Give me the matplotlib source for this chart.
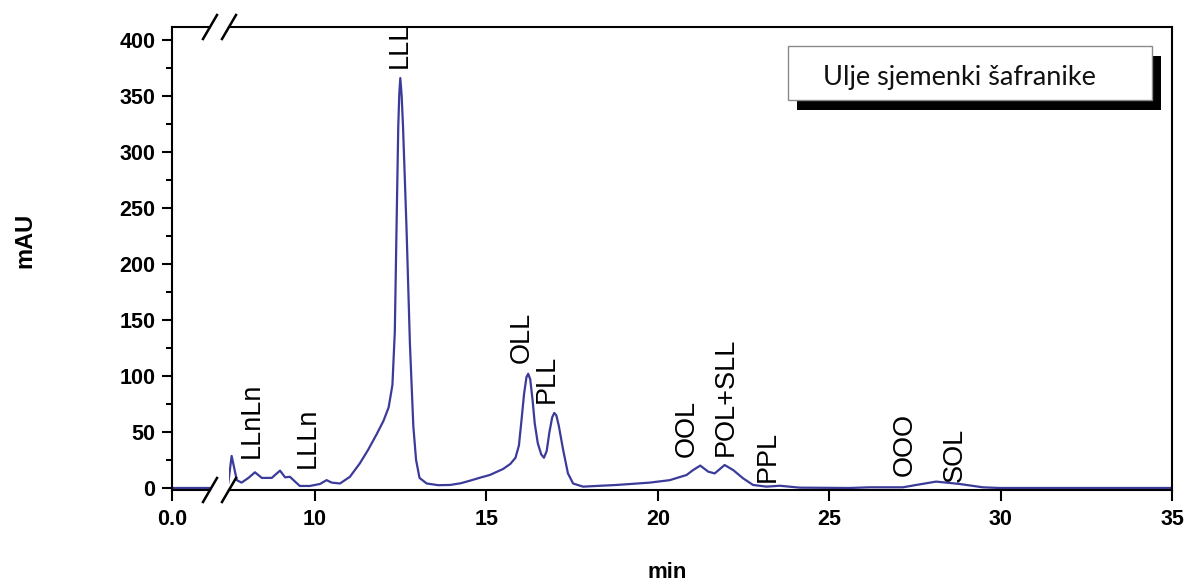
import numpy as np
import matplotlib.pyplot as plt
from matplotlib.lines import Line2D
from matplotlib.patches import Rectangle

# chromatogram (min, mAU)
time = [0.0, 1.2, 7.47, 7.57, 7.72, 7.86, 8.06, 8.25, 8.45, 8.74, 8.98, 9.13,
        9.27, 9.42, 9.56, 9.85, 10.15, 10.34, 10.49, 10.73, 11.02, 11.31, 11.55,
        11.80, 12.00, 12.15, 12.26, 12.33, 12.38, 12.43, 12.46, 12.49, 12.53,
        12.57, 12.67, 12.77, 12.87, 12.95, 13.05, 13.26, 13.60, 13.94, 14.25,
        14.52, 14.85, 15.10, 15.49, 15.70, 15.85, 15.95, 16.03, 16.10, 16.17,
        16.22, 16.28, 16.35, 16.41, 16.50, 16.60, 16.68, 16.76, 16.84, 16.92,
        16.98, 17.04, 17.11, 17.24, 17.38, 17.53, 17.82, 18.80, 19.77, 20.35,
        20.84, 21.03, 21.24, 21.47, 21.66, 21.95, 22.20, 22.49, 22.78, 23.17,
        23.56, 24.14, 25.60, 26.18, 27.15, 27.54, 28.12, 28.80, 29.48, 29.97,
        35.0]
signal = [0.0, 0.0, 4.0, 28.6, 7.0, 4.8, 9.0, 14.0, 9.0, 9.0, 15.5, 9.5,
          10.0, 5.7, 1.8, 1.8, 3.6, 7.0, 4.8, 4.0, 10.0, 22.0, 34.0,
          48.0, 60.0, 72.0, 92.0, 140.0, 233.0, 322.0, 352.0, 366.0, 350.0,
          322.0, 233.0, 129.0, 55.0, 25.0, 9.0, 4.0, 2.5, 2.7, 4.2,
          6.5, 9.5, 11.6, 17.0, 21.5, 27.0, 38.0, 62.0, 84.0, 99.0,
          102.0, 97.0, 78.0, 58.0, 40.0, 30.0, 27.0, 33.0, 50.0, 63.0,
          67.0, 65.0, 56.0, 34.0, 13.0, 4.0, 1.2, 2.7, 4.8, 7.0,
          11.6, 16.0, 20.0, 14.6, 13.0, 20.5, 16.0, 8.6, 2.7, 1.2,
          2.0, 0.3, 0.0, 0.6, 0.6, 2.7, 5.7, 3.6, 0.6, 0.0,
          0.0]

peak_names = ["LLnLn", "LLLn", "LLL", "OLL", "PLL", "OOL", "POL+SLL", "PPL", "OOO", "SOL"]
peak_x = [8.16, 9.80, 12.48, 16.03, 16.76, 20.85, 21.98, 23.21, 27.20, 28.66]
peak_y = [27, 18, 375, 112, 76, 28, 29, 5, 11, 5]

yticks = list(range(0, 401, 50))
xticks = [10, 15, 20, 25, 30, 35]

W, H = 1187, 583
fig = plt.figure(figsize=(W / 100, H / 100), dpi=100)


def fx(px):
    return px / W


def fy(py):
    return 1 - py / H


bottom, top = fy(490), fy(27)
ax_l = fig.add_axes([fx(172), bottom, fx(210) - fx(172), top - bottom])
ax_r = fig.add_axes([fx(229), bottom, fx(1172) - fx(229), top - bottom])

color = "#3b3b9a"
tick_font = dict(family="Liberation Sans", weight="bold", size=15.5)

for ax in (ax_l, ax_r):
    ax.plot(time, signal, color=color, lw=1.6, solid_joinstyle="round")
    ax.set_ylim(-1.8, 411.6)
    for s in ax.spines.values():
        s.set_linewidth(1.5)
    ax.tick_params(axis="x", direction="out", length=8, width=1.5, pad=6, top=False)

ax_l.set_xlim(0, 1.108)
ax_r.set_xlim(7.493, 35)
ax_l.spines["right"].set_visible(False)
ax_r.spines["left"].set_visible(False)

ax_l.set_xticks([0])
ax_l.set_xticklabels(["0.0"], fontdict=tick_font)
ax_r.set_xticks(xticks)
ax_r.set_xticklabels([str(t) for t in xticks], fontdict=tick_font)

ax_l.set_yticks(yticks)
ax_l.set_yticklabels([str(t) for t in yticks], fontdict=tick_font)
ax_l.set_yticks(range(25, 400, 50), minor=True)
ax_l.tick_params(axis="y", which="major", direction="out", length=7, width=1.5, pad=5, right=False)
ax_l.tick_params(axis="y", which="minor", direction="out", length=4, width=1.5, right=False)
ax_r.tick_params(axis="y", which="both", left=False, right=False, labelleft=False)

# peak labels
for name, x, y in zip(peak_names, peak_x, peak_y):
    ax_r.text(x, y, name, rotation=90, ha="center", va="bottom",
              family="Liberation Sans", fontsize=19.5, color="black")

# axis break marks
for cx in (210, 229):
    for cy in (27, 490):
        fig.add_artist(Line2D([fx(cx - 7), fx(cx + 7)], [fy(cy + 12), fy(cy - 12)],
                              transform=fig.transFigure, color="black", lw=1.8))

# axis titles
fig.text(fx(25), fy(240), "mAU", rotation=90, ha="center", va="center",
         family="Liberation Sans", weight="bold", fontsize=17)
fig.text(fx(667), fy(572), "min", ha="center", va="center",
         family="Liberation Sans", weight="bold", fontsize=16)

# label box with shadow
bx0, by0, bx1, by1 = 788, 46, 1152, 100
fig.add_artist(Rectangle((fx(bx0 + 9), fy(by1 + 10)), fx(bx1) - fx(bx0), fy(by0) - fy(by1),
                         transform=fig.transFigure, facecolor="black", edgecolor="none"))
fig.add_artist(Rectangle((fx(bx0), fy(by1)), fx(bx1) - fx(bx0), fy(by0) - fy(by1),
                         transform=fig.transFigure, facecolor="white", edgecolor="#8a8a8a", lw=1))
fig.text(fx(823), fy(85), "Ulje sjemenki šafranike", ha="left", va="baseline",
         family="Lato", fontsize=19.5, color="#111111")

fig.savefig("out.png", dpi=100)
